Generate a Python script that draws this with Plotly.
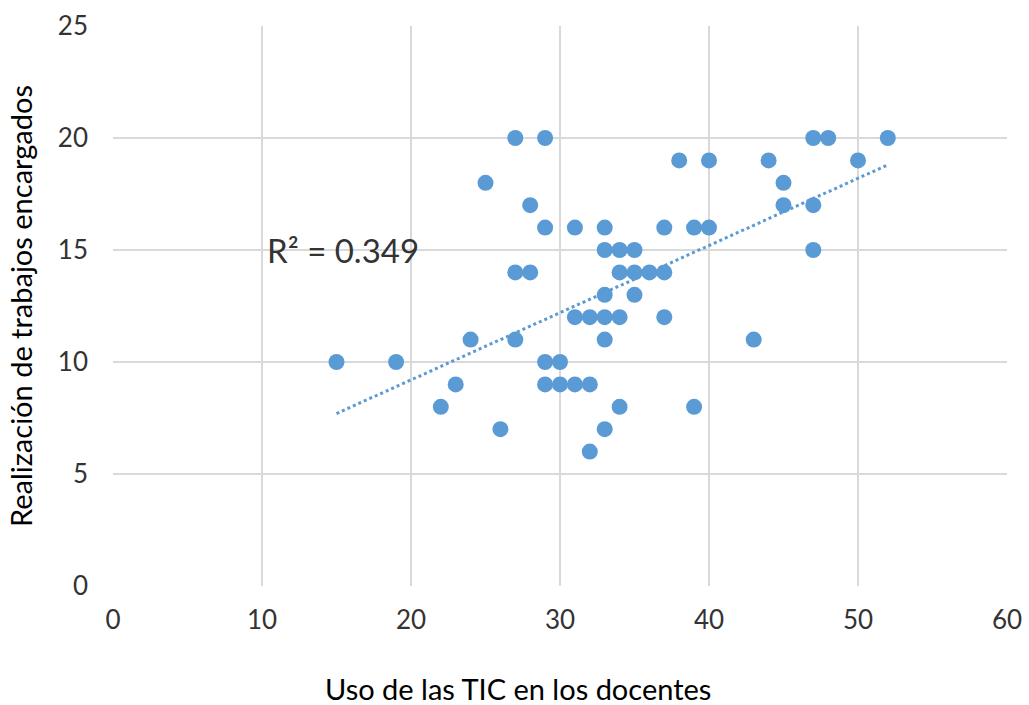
import plotly.graph_objects as go

uso_tic = [15, 19, 22, 23, 24, 25, 26, 27, 27, 27, 28, 28, 29, 29, 29, 29,
           30, 30, 31, 31, 31, 32, 32, 32, 33, 33, 33, 33, 33, 33, 34, 34,
           34, 34, 35, 35, 35, 36, 37, 37, 37, 38, 39, 39, 40, 40, 43, 44,
           45, 45, 47, 47, 47, 48, 50, 52]
trabajos = [10, 10, 8, 9, 11, 18, 7, 20, 14, 11, 17, 14, 20, 16, 10, 9,
            10, 9, 16, 12, 9, 12, 9, 6, 16, 15, 13, 12, 11, 7, 15, 14,
            12, 8, 15, 14, 13, 14, 16, 14, 12, 19, 16, 8, 19, 16, 11, 19,
            18, 17, 20, 17, 15, 20, 19, 20]

# linear trendline as drawn in the picture (end points)
trend_x = [15, 52]
trend_y = [7.7, 18.8]
r2_label = "R² = 0.349"

x_ticks = [0, 10, 20, 30, 40, 50, 60]
y_ticks = [0, 5, 10, 15, 20, 25]
x_title = "Uso de las TIC en los docentes"
y_title = "Realización de trabajos encargados"

color = "#5B9BD5"
font = "Lato"
txt = "#333333"

fig = go.Figure()
fig.add_trace(go.Scatter(x=trend_x, y=trend_y, mode="lines",
                         line=dict(color=color, width=3, dash="dot"),
                         hoverinfo="skip", showlegend=False))
fig.add_trace(go.Scatter(x=uso_tic, y=trabajos, mode="markers",
                         marker=dict(color=color, size=16, line=dict(width=0)),
                         showlegend=False))

fig.add_annotation(x=10.2, y=15, xref="x", yref="y", xanchor="left",
                   yanchor="middle", text=r2_label, showarrow=False,
                   font=dict(family=font, size=33, color=txt))

fig.add_annotation(x=0.453, y=-0.183, xref="paper", yref="paper",
                   xanchor="center", yanchor="middle", text=x_title,
                   showarrow=False, font=dict(family=font, size=29, color="#000"))

fig.update_xaxes(range=[0, 60], tickvals=x_ticks, showgrid=True,
                 gridcolor="#D9D9D9", gridwidth=1.5, zeroline=False,
                 showline=False, ticks="", ticklabelstandoff=16,
                 automargin=False, ticklabeloverflow="allow",
                 tickfont=dict(family=font, size=26, color=txt))
fig.update_yaxes(range=[0, 25], tickvals=y_ticks, showgrid=True,
                 gridcolor="#D9D9D9", gridwidth=1.5, zeroline=False,
                 showline=False, ticks="", ticklabelstandoff=24,
                 automargin=False, ticklabeloverflow="allow",
                 tickfont=dict(family=font, size=26, color=txt),
                 title=dict(text=y_title, standoff=16,
                            font=dict(family=font, size=29, color="#000")))

fig.update_layout(width=1029, height=705, plot_bgcolor="white",
                  paper_bgcolor="white",
                  margin=dict(l=113, r=22, t=26, b=119))
fig.write_html("out.html", config={"displayModeBar": False},
               post_script="document.body.style.margin='0';"
                           "document.body.style.overflow='hidden';")
